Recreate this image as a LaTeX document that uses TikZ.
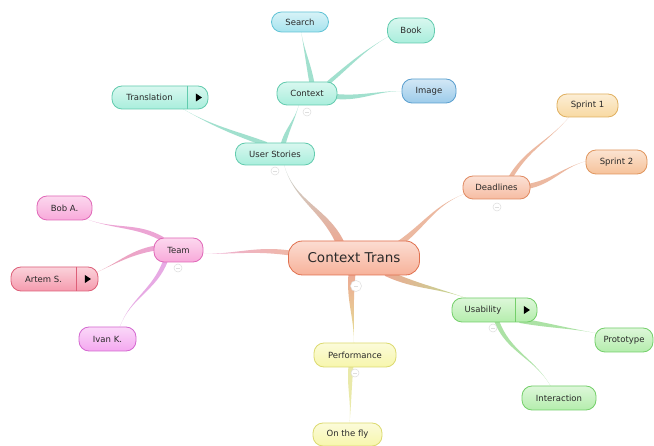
\documentclass[tikz,border=0pt]{standalone}
\usepackage{fontspec}
\setmainfont{DejaVu Sans}
\usetikzlibrary{calc}
\pgfdeclarelayer{background}
\pgfsetlayers{background,main}
\definecolor{tealF}{HTML}{A9EEDC}\definecolor{tealD}{HTML}{62CBAE}
\definecolor{srchF}{HTML}{A6E3EE}\definecolor{srchD}{HTML}{62C3D6}
\definecolor{imgF}{HTML}{9CCBEA}\definecolor{imgD}{HTML}{5A9FCF}
\definecolor{pinkF}{HTML}{F8A9DA}\definecolor{pinkD}{HTML}{E068B8}
\definecolor{redF}{HTML}{F59BAE}\definecolor{redD}{HTML}{DD5F78}
\definecolor{magF}{HTML}{F4A8F0}\definecolor{magD}{HTML}{D468D0}
\definecolor{rootF}{HTML}{F7B29A}\definecolor{rootD}{HTML}{E0704E}
\definecolor{dlF}{HTML}{F6BCA2}\definecolor{dlD}{HTML}{E08A62}
\definecolor{s1F}{HTML}{F8D9A2}\definecolor{s1D}{HTML}{E0B060}
\definecolor{s2F}{HTML}{F6C29A}\definecolor{s2D}{HTML}{E0965E}
\definecolor{grnF}{HTML}{B4EDAC}\definecolor{grnD}{HTML}{74CF6A}
\definecolor{yelF}{HTML}{F7F6AC}\definecolor{yelD}{HTML}{DCDA70}
\definecolor{txt}{HTML}{2A2A2A}
\tikzset{
  pill/.style n args={2}{draw=#2, line width=0.8pt, rounded corners=10pt,
    top color=#1!45!white, bottom color=#1, minimum height=23pt,
    inner sep=0pt, text=txt, font=\fontsize{8.5}{10}\selectfont},
  collapse/.style={circle, draw=black!13, fill=white, line width=0.5pt, minimum size=8pt, inner sep=0pt},
  band/.style={fill=#1, fill opacity=0.7}
}
\newcommand\branch[6]{%
  \path[#1] ($#2+#6$) to[out=#4,in=#5] #3 to[out=#5,in=#4] ($#2-#6$) -- cycle;}
\newcommand\tri[1]{\fill[black] ($#1+(-2.5,-4)$) -- ($#1+(3.5,0)$) -- ($#1+(-2.5,4)$) -- cycle;}
\newcommand\minus[1]{\draw[black!13, line width=0.5pt] ($(#1)+(-2,0)$) -- ($(#1)+(2,0)$);}
\begin{document}
\begin{tikzpicture}[x=1pt,y=-1pt]
\useasboundingbox (0,0) rectangle (654,446);
% ---------- nodes ----------
\node[pill={rootF}{rootD}, minimum width=131pt, minimum height=34pt, rounded corners=14pt,
  font=\fontsize{13.5}{15}\selectfont] (ct) at (354,258) {Context Trans};
\node[pill={tealF}{tealD}, minimum width=79pt, minimum height=22pt] (us) at (275,154) {User Stories};
\node[pill={tealF}{tealD}, minimum width=60pt] (cx) at (307,93.5) {Context};
\node[pill={srchF}{srchD}, minimum width=57pt, minimum height=20pt] (se) at (300,22) {Search};
\node[pill={tealF}{tealD}, minimum width=47pt, minimum height=25pt, rounded corners=11pt] (bk) at (411,30.5) {Book};
\node[pill={imgF}{imgD}, minimum width=54pt, minimum height=24pt] (im) at (429,91) {Image};
\node[pill={tealF}{tealD}, minimum width=96pt] (tr) at (160,97.5) {Translation\hspace*{21pt}};
\node[pill={pinkF}{pinkD}, minimum width=49pt, minimum height=24pt] (tm) at (178.5,250) {Team};
\node[pill={pinkF}{pinkD}, minimum width=55pt, minimum height=24pt] (bob) at (64.5,208) {Bob A.};
\node[pill={redF}{redD}, minimum width=87pt, minimum height=24pt] (art) at (54.5,279) {Artem S.\hspace*{22pt}};
\node[pill={magF}{magD}, minimum width=57pt, minimum height=24pt] (iv) at (107.5,339) {Ivan K.};
\node[pill={dlF}{dlD}, minimum width=67pt] (dl) at (496.5,187.5) {Deadlines};
\node[pill={s1F}{s1D}, minimum width=61pt] (s1) at (587.5,105.5) {Sprint 1};
\node[pill={s2F}{s2D}, minimum width=61pt, minimum height=24pt] (s2) at (616.5,162) {Sprint 2};
\node[pill={grnF}{grnD}, minimum width=85pt, minimum height=24pt] (ub) at (494.5,310) {Usability\hspace*{23pt}};
\node[pill={grnF}{grnD}, minimum width=58pt, minimum height=24pt] (pt) at (624,340) {Prototype};
\node[pill={grnF}{grnD}, minimum width=74pt, minimum height=24pt] (ia) at (559,398) {Interaction};
\node[pill={yelF}{yelD}, minimum width=82pt, minimum height=24pt] (pf) at (355,355) {Performance};
\node[pill={yelF}{yelD}, minimum width=69pt] (of) at (347.5,434.5) {On the fly};
% ---------- split buttons ----------
\draw[tealD, line width=0.8pt] ($(tr.north east)+(-21,0)$) -- ($(tr.south east)+(-21,0)$);
\tri{($(tr.east)+(-10,0)$)}
\draw[redD, line width=0.8pt] ($(art.north east)+(-22,0)$) -- ($(art.south east)+(-22,0)$);
\tri{($(art.east)+(-11,0)$)}
\draw[grnD, line width=0.8pt] ($(ub.north east)+(-22,0)$) -- ($(ub.south east)+(-22,0)$);
\tri{($(ub.east)+(-11,0)$)}
% ---------- connectors ----------
\begin{pgfonlayer}{background}
\fill[white] (0,0) rectangle (654,446);
% root branches
\branch{top color=tealD!40!gray!55, bottom color=rootD!80, fill opacity=0.75}{($(ct.north)+(-14,2)$)}{($(us.south)+(9,-1)$)}{115}{-75}{(4.5,0)}
\branch{band=dlD!85}{($(ct.north east)+(-22,4)$)}{($(dl.west)+(3,6)$)}{35}{200}{(0,3.5)}
\branch{left color=pinkD!75, right color=rootD!70, fill opacity=0.7}{($(ct.west)+(2,-5)$)}{($(tm.east)+(-1,4)$)}{172}{0}{(0,2.5)}
\branch{left color=rootD!80, right color=grnD!50!yelD, fill opacity=0.75}{($(ct.south east)+(-35,-3)$)}{($(ub.north west)+(16,1)$)}{-25}{160}{(0,3.5)}
\branch{top color=rootD!80, bottom color=yelD, fill opacity=0.75}{($(ct.south)+(-2,-2)$)}{($(pf.north)+(-1,1)$)}{-95}{90}{(3.5,0)}
% user stories / context
\branch{band=tealD!85}{($(us.north)+(-8,2)$)}{($(tr.south)+(22,-1)$)}{160}{-30}{(0,2.5)}
\branch{band=tealD!85}{($(us.north)+(8,2)$)}{($(cx.south)+(-8,-1)$)}{75}{-105}{(2.5,0)}
\branch{band=tealD!85}{($(cx.north)+(5,2)$)}{($(se.south)+(1,-1)$)}{100}{-80}{(2.5,0)}
\branch{band=tealD!85}{($(cx.north east)+(-10,2)$)}{($(bk.west)+(3,5)$)}{40}{210}{(0,2.5)}
\branch{band=tealD!85}{($(cx.east)+(-2,3)$)}{($(im.west)+(1,0)$)}{-5}{180}{(0,2.5)}
% team
\branch{band=pinkD!85}{($(tm.north west)+(10,2)$)}{($(bob.south east)+(-5,-1)$)}{150}{-20}{(0,2.5)}
\branch{left color=redD!80, right color=pinkD!85, fill opacity=0.7}{($(tm.west)+(2,-2)$)}{($(art.east)+(-1,-7)$)}{190}{25}{(0,2.5)}
\branch{band=magD!80}{($(tm.south west)+(12,-2)$)}{($(iv.north)+(12,1)$)}{-110}{70}{(2.5,0)}
% deadlines
\branch{band=dlD!85}{($(dl.north)+(14,2)$)}{($(s1.south west)+(13,-1)$)}{60}{-130}{(2.5,0)}
\branch{band=dlD!85}{($(dl.east)+(-3,-1)$)}{($(s2.west)+(1,-1)$)}{10}{195}{(0,2.5)}
% usability
\branch{band=grnD!85}{($(ub.south east)+(-18,-2)$)}{($(pt.west)+(1,-7)$)}{-10}{170}{(0,2.5)}
\branch{band=grnD!85}{($(ub.south)+(2,-2)$)}{($(ia.north)+(-8,1)$)}{-70}{120}{(2.5,0)}
% performance
\branch{band=yelD!85}{($(pf.south)+(-4,-2)$)}{($(of.north)+(2,1)$)}{-95}{85}{(2.5,0)}
\end{pgfonlayer}
% ---------- collapse markers ----------
\node[collapse] (c1) at (307,112) {}; \minus{c1}
\node[collapse] (c2) at (275,171) {}; \minus{c2}
\node[collapse, minimum size=11pt] (c3) at (356,286) {}; \minus{c3}
\node[collapse] (c4) at (178,268) {}; \minus{c4}
\node[collapse] (c5) at (497,207) {}; \minus{c5}
\node[collapse] (c6) at (493,328) {}; \minus{c6}
\node[collapse] (c7) at (355,373) {}; \minus{c7}
\end{tikzpicture}
\end{document}
